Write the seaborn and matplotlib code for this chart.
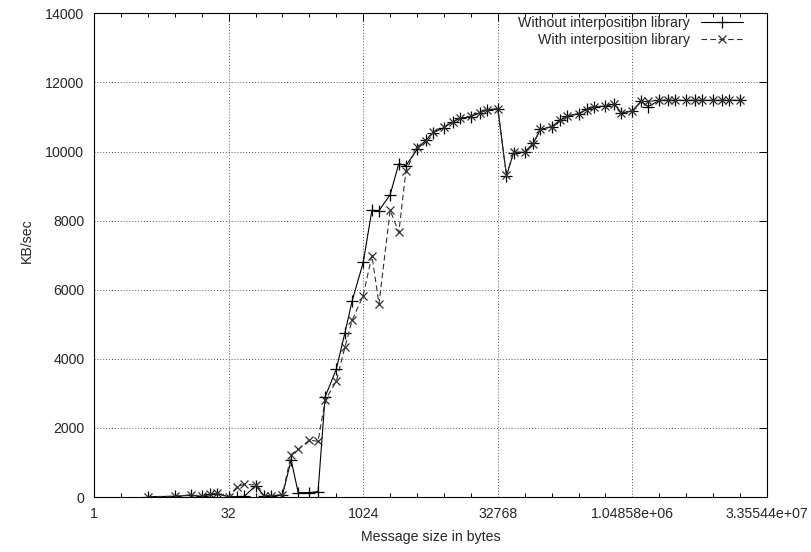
import matplotlib
matplotlib.use("Agg")
import matplotlib.pyplot as plt
import seaborn as sns
import pandas as pd
from matplotlib.ticker import FixedLocator, NullFormatter, FixedFormatter

# ---- data ----
sizes = [4, 8, 12, 16, 20, 24, 32, 40, 48, 64, 80, 96, 128, 160, 192, 256, 320, 384,
         512, 640, 768, 1024, 1280, 1536, 2048, 2560, 3072, 4096, 5120, 6144, 8192,
         10240, 12288, 16384, 20480, 24576, 32768, 40960, 49152, 65536, 81920, 98304,
         131072, 163840, 196608, 262144, 327680, 393216, 524288, 655360, 786432,
         1048576, 1310720, 1572864, 2097152, 2621440, 3145728, 4194304, 5242880,
         6291456, 8388608, 10485760, 12582912, 16777216]

without_lib = [10, 20, 50, 20, 80, 90, 10, 10, 20, 330, 30, 40, 60, 1070, 125, 130, 155, 2900,
               3700, 4760, 5670, 6790, 8300, 8290, 8750, 9650, 9590, 10060, 10320, 10540, 10690,
               10860, 10960, 11010, 11120, 11200, 11240, 9300, 9960, 9980, 10250, 10640,
               10720, 10910, 11020, 11100, 11220, 11300, 11310, 11380, 11120,
               11170, 11460, 11300, 11480, 11480, 11480, 11480, 11480,
               11480, 11480, 11480, 11480, 11480]

with_lib = [10, 20, 60, 20, 90, 110, 15, 300, 370, 350, 30, 40, 60, 1230, 1380, 1650, 1610, 2800,
            3350, 4340, 5110, 5830, 6990, 5590, 8300, 7660, 9430, 10140, 10300, 10560, 10700,
            10850, 10970, 11020, 11110, 11210, 11230, 9320, 9980, 9990, 10230, 10650,
            10710, 10900, 11030, 11090, 11210, 11290, 11320, 11370, 11110,
            11180, 11450, 11450, 11480, 11480, 11480, 11480, 11480,
            11480, 11480, 11480, 11480, 11480]

series_names = ["Without interposition library", "With interposition library"]
x_major_ticks = [1, 32, 1024, 32768, 1048576, 33554432]
x_tick_labels = ["1", "32", "1024", "32768", "1.04858e+06", "3.35544e+07"]
y_ticks = [0, 2000, 4000, 6000, 8000, 10000, 12000, 14000]
x_label = "Message size in bytes"
y_label = "KB/sec"

# ---- style ----
sns.set_style("white")
plt.rcParams["font.family"] = ["Liberation Sans", "DejaVu Sans"]
FS = 10.2
plt.rcParams["font.size"] = FS

fig = plt.figure(figsize=(8.12, 5.52), dpi=100)
ax = fig.add_subplot(111)
fig.subplots_adjust(left=0.1158, right=0.9446, bottom=0.0996, top=0.9759)

df1 = pd.DataFrame({"size": sizes, "rate": without_lib})
df2 = pd.DataFrame({"size": sizes, "rate": with_lib})

sns.lineplot(data=df1, x="size", y="rate", ax=ax, color="black", linewidth=0.8,
             marker="+", markersize=8, markeredgewidth=0.9, markeredgecolor="black",
             label=series_names[0])
sns.lineplot(data=df2, x="size", y="rate", ax=ax, color="#303030", linewidth=0.8,
             linestyle=(0, (5, 3)), marker="x", markersize=6, markeredgewidth=0.9,
             markeredgecolor="#303030", label=series_names[1])

ax.set_xscale("log", base=2)
ax.set_xlim(1, 2 ** 25)
ax.set_ylim(0, 14000)

ax.xaxis.set_major_locator(FixedLocator(x_major_ticks))
ax.xaxis.set_major_formatter(FixedFormatter(x_tick_labels))
ax.xaxis.set_minor_locator(FixedLocator([2 ** k for k in range(26)]))
ax.xaxis.set_minor_formatter(NullFormatter())
ax.set_yticks(y_ticks)
ax.set_yticklabels([str(v) for v in y_ticks])

ax.tick_params(axis="both", which="major", direction="in", length=6, width=0.7,
               top=True, right=True, labelsize=FS, color="black")
ax.tick_params(axis="x", which="major", pad=7)
ax.tick_params(axis="y", which="major", pad=7)
ax.tick_params(axis="x", which="minor", direction="in", length=3, width=0.7,
               top=True, bottom=True, color="black")

ax.grid(True, which="major", axis="both", color="#555555", linestyle=(0, (1, 2)),
        linewidth=0.7)

for sp in ax.spines.values():
    sp.set_color("black")
    sp.set_linewidth(0.8)
    sp.set_visible(True)

ax.set_xlabel(x_label, fontsize=FS)
ax.set_ylabel(y_label, fontsize=FS)
ax.xaxis.set_label_coords(0.5, -0.068)
ax.yaxis.set_label_coords(-0.09, 0.53)

leg = ax.legend(loc="upper right", bbox_to_anchor=(0.968, 0.998), frameon=False,
                markerfirst=False, handlelength=3.0, handletextpad=0.8,
                labelspacing=0.2, borderpad=0.15, borderaxespad=0.0,
                fontsize=FS, numpoints=1)
leg._legend_box.align = "right"
for vp in leg._legend_box.get_children()[1].get_children():
    for hp in vp.get_children():
        hp.align = "baseline"

fig.savefig("out.png", dpi=100)
